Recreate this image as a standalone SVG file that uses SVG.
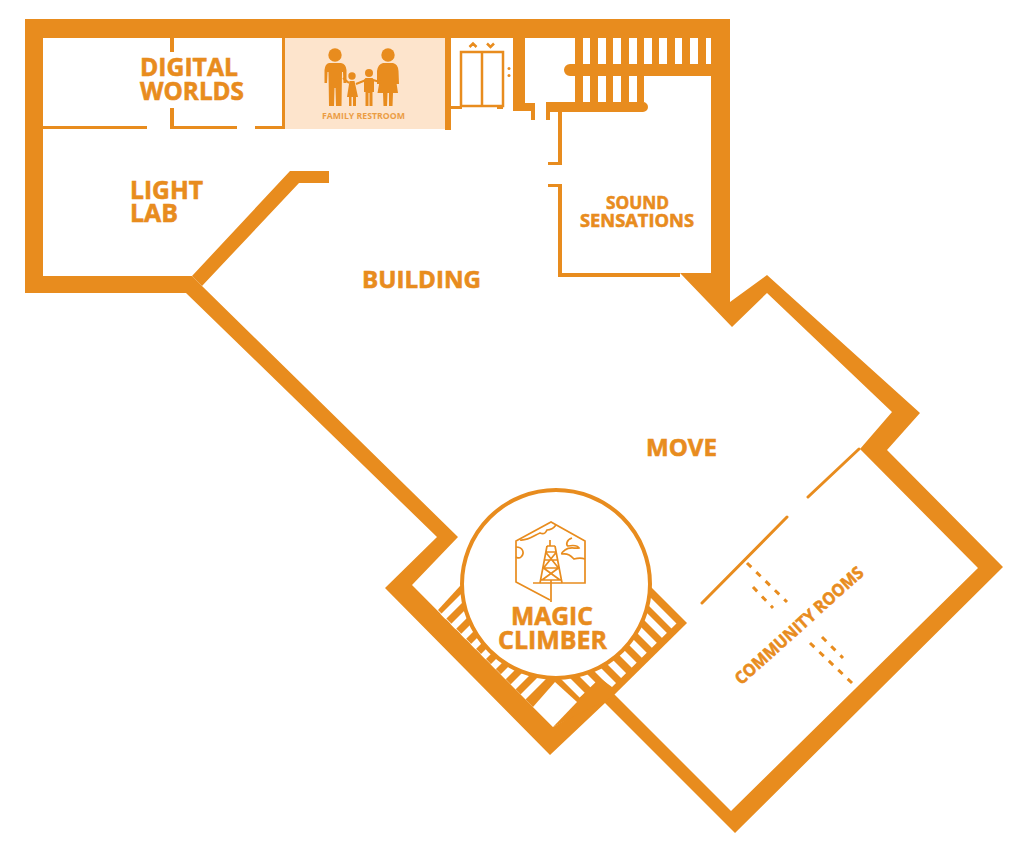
<svg xmlns="http://www.w3.org/2000/svg" width="1024" height="850" viewBox="0 0 1024 850">
<style>
.o{fill:#E88C1E}
.w{fill:#fff}
.t{font-family:"Open Sans","Noto Sans","Liberation Sans",sans-serif;font-weight:700;fill:#E88C1E;stroke:#E88C1E;stroke-width:.6}
.l{fill:none;stroke:#E88C1E;stroke-width:3}
.s{fill:none;stroke:#fff;stroke-width:7}
.d{fill:none;stroke:#E88C1E;stroke-width:3;stroke-dasharray:6 7}
.i{fill:none;stroke:#E88C1E;stroke-width:1.7}
</style>
<defs>
<clipPath id="cl"><polygon points="439,613 530.5,704.5 567.5,667.5 476,576"/></clipPath>
<clipPath id="cr"><polygon points="655,596 679,621 612,687 600,678 575,702 545,672 600,560"/></clipPath>
</defs>
<rect width="1024" height="850" fill="#fff"/>
<g id="restroom">
<rect x="285" y="38" width="160" height="91" fill="#FDE4CC"/>
<g class="o">
<circle cx="335" cy="55" r="6.7"/>
<path d="M329 63H341Q346 64 346.500 70L346.500 83H343.500L343 72H342L341.500 106H336L335.500 88H334.500L334 106H329L328.500 72H327.500L327 83H324.500V70Q325 64 329 63Z"/>
<circle cx="388" cy="55" r="6.7"/>
<path d="M383 63H393Q398 64 398.500 71L399 84H396.500L395 73L398 93H393L392.500 106H389V93H387.500L387 106H383.500L383 93H377.500L381 73L379.500 84H377V71Q378 64 383 63Z"/>
<circle cx="352" cy="76" r="3.700"/>
<path d="M349.500 81H354.500L358 97H356V106H353V97H351.500V106H349V97H347Z"/>
<circle cx="369" cy="73" r="4"/>
<path d="M365.500 78H372.500Q374 79 374 81V92H372.500V106H369.500V93H368.500V106H365.500V92H364V81Q364 79 365.500 78Z"/>
</g>
<path d="M343 78L349 83M356 84L366 80M373 80L380 82" class="l" style="stroke-width:2"/>
<text class="t" x="322" y="119" font-size="8.500" textLength="83" lengthAdjust="spacingAndGlyphs" opacity=".8" style="stroke-width:0">FAMILY RESTROOM</text>
</g>
<g id="walls">
<path class="o" fill-rule="evenodd" d="M25 19H730V302L767 275L920 413L887 450L1003 567L735 833L605 703L550 755L385 588L437 537L186 293H25ZM43 38H711V273H680L732 327L767 293L892 412L860 449L978 568L731 811L613 693L553 727L533 707L412 585L458 537L202 286L192 276H43Z"/>
<polygon class="o" points="192,276 290,171 329,171 329,183 299,183 202,286"/>
<path class="o" d="M170 38h4v14h-4zM170 108h4v18h63v3H170zM43 126H147v3H43zM255 126h30v3h-30zM282 38h3v91h-3zM445 38h6v92h-6z"/>
</g>
<g id="elevator">
<path class="o" d="M513 38H525V103H535V120H531V111H513L513 109H497V106H503V109H513ZM451 106H462V109H451Z"/>
<rect x="461" y="52" width="42" height="54" fill="none" stroke="#E88C1E" stroke-width="2.500"/>
<path d="M482 52V106" class="l" style="stroke-width:2.500"/>
<path d="M469.500 47L473 43.500L476.500 47M487 43.500L490.500 47L494 43.500" class="l" style="stroke-width:2.500"/>
<circle class="o" cx="509" cy="68.500" r="1.500"/><circle class="o" cx="509" cy="75.500" r="1.500"/>
</g>
<g id="stairs-top">
<path class="o" d="M575 38H711V76H644V102H575V76H570A6 6 0 0 1 570 64H575Z"/>
<path class="o" d="M550 102H643A5 5 0 0 1 643 112H550V120H546V102Z"/>
<path class="w" d="M583 38h7v26h-7zM598 38h8v26h-8zM613 38h8v26h-8zM629 38h8v26h-8zM644 38h8v26h-8zM659 38h8v26h-8zM675 38h7v26h-7zM690 38h8v26h-8zM706 38h5v26h-5zM583 76h7v26h-7zM598 76h8v26h-8zM613 76h8v26h-8zM629 76h8v26h-8z"/>
</g>
<g id="sound-walls">
<path class="o" d="M558 112h4v53h-14v-3h10zM548 184h14v89h118v4H558V187h-10z"/>
</g>
<g id="community-walls">
<path class="l" stroke-linecap="round" d="M859 449L808 497M787 517L702 603"/>
<path class="d" d="M747 563L787 602M753 587L773 608M822 637L843 658M810 643L852 683"/>
</g>
<g id="magic-climber">
<polygon class="o" points="438,610 460,586 556,570 650,586 687,623 612,697 553,727 533,707"/>
<polygon class="w" points="533,707 555,682 577,702 553,727"/>
<g clip-path="url(#cl)">
<path class="s" d="M443 617L503 557M453 627L513 567M463 637L523 577M473 647L533 587M483 657L543 597M493 667L553 607M503 677L563 617M513 687L573 627M523 697L583 637"/>
</g>
<g clip-path="url(#cr)">
<path class="s" d="M620 572L690 642M600 571L680 651M590 581L670 661M570 581L660 671M560 591L650 681M540 592L630 682M530 602L620 692M520 612L610 702M500 613L590 703"/>
</g>
<circle cx="556" cy="584" r="94" fill="#fff" stroke="#E88C1E" stroke-width="4"/>
<g class="i">
<path d="M533 583H585V541L551 522L516 541V582L550 600"/>
<path d="M547 546H555M545.500 552H556.500M543.500 560H558.500M542 568H560M540 580H562M547 546L540 583M555 546L562 583M545.500 552L558.500 568M556.500 552L543.500 568M543.500 568L560 580M558.500 568L542 580M551 580V602M550 540V546"/>
<path d="M520 540C528 541 535 535 540 533C545 535 546 532 547 530C549 530 553 529 556 525M516 547C523 547 525 553 521 557C519 559 518 558 516 557M572 538C566 540 566 545 568 546C574 545 578 546 579 548C575 549 570 546 565 550C563 552 561 553 562 554C568 553 571 556 574 559C578 558 582 558 585 559"/>
</g>
<text class="t" x="511" y="625" font-size="25" textLength="82" lengthAdjust="spacingAndGlyphs">MAGIC</text>
<text class="t" x="498" y="649" font-size="25" textLength="109" lengthAdjust="spacingAndGlyphs">CLIMBER</text>
</g>
<g id="labels">
<text class="t" x="140" y="76" font-size="25" textLength="98" lengthAdjust="spacingAndGlyphs">DIGITAL</text>
<text class="t" x="140" y="100" font-size="25" textLength="104" lengthAdjust="spacingAndGlyphs">WORLDS</text>
<text class="t" x="130" y="199" font-size="25" textLength="73" lengthAdjust="spacingAndGlyphs">LIGHT</text>
<text class="t" x="130" y="222" font-size="25" textLength="48" lengthAdjust="spacingAndGlyphs">LAB</text>
<text class="t" x="362" y="288" font-size="24" textLength="119" lengthAdjust="spacingAndGlyphs">BUILDING</text>
<text class="t" x="646" y="456" font-size="24" textLength="71" lengthAdjust="spacingAndGlyphs">MOVE</text>
<text class="t" x="606" y="209" font-size="18" textLength="63" lengthAdjust="spacingAndGlyphs">SOUND</text>
<text class="t" x="580" y="227" font-size="18" textLength="114" lengthAdjust="spacingAndGlyphs">SENSATIONS</text>
<text class="t" text-anchor="middle" font-size="17" textLength="166" lengthAdjust="spacingAndGlyphs" transform="translate(803 630) rotate(-42)">COMMUNITY ROOMS</text>
</g>
</svg>
